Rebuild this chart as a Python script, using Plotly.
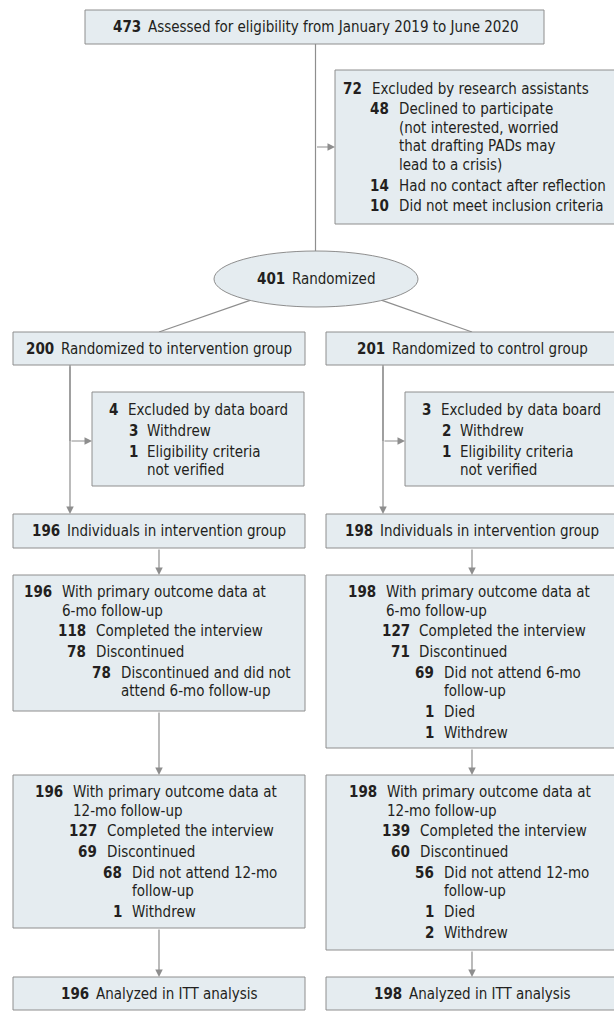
import plotly.graph_objects as go

# ---------------- data ----------------
screened = ("473", "Assessed for eligibility from January 2019 to June 2020")
excluded_ra = [
    (0, "72", ["Excluded by research assistants"]),
    (1, "48", ["Declined to participate", "(not interested, worried",
               "that drafting PADs may", "lead to a crisis)"]),
    (1, "14", ["Had no contact after reflection"]),
    (1, "10", ["Did not meet inclusion criteria"]),
]
randomized = ("401", "Randomized")
allocated = [("200", "Randomized to intervention group"),
             ("201", "Randomized to control group")]
excluded_board = [
    [(0, "4", ["Excluded by data board"]), (1, "3", ["Withdrew"]),
     (1, "1", ["Eligibility criteria", "not verified"])],
    [(0, "3", ["Excluded by data board"]), (1, "2", ["Withdrew"]),
     (1, "1", ["Eligibility criteria", "not verified"])],
]
individuals = [("196", "Individuals in intervention group"),
               ("198", "Individuals in intervention group")]
followup_6mo = [
    [(0, "196", ["With primary outcome data at", "6-mo follow-up"]),
     (1, "118", ["Completed the interview"]),
     (1, "78", ["Discontinued"]),
     (2, "78", ["Discontinued and did not", "attend 6-mo follow-up"])],
    [(0, "198", ["With primary outcome data at", "6-mo follow-up"]),
     (1, "127", ["Completed the interview"]),
     (1, "71", ["Discontinued"]),
     (2, "69", ["Did not attend 6-mo", "follow-up"]),
     (2, "1", ["Died"]),
     (2, "1", ["Withdrew"])],
]
followup_12mo = [
    [(0, "196", ["With primary outcome data at", "12-mo follow-up"]),
     (1, "127", ["Completed the interview"]),
     (1, "69", ["Discontinued"]),
     (2, "68", ["Did not attend 12-mo", "follow-up"]),
     (2, "1", ["Withdrew"])],
    [(0, "198", ["With primary outcome data at", "12-mo follow-up"]),
     (1, "139", ["Completed the interview"]),
     (1, "60", ["Discontinued"]),
     (2, "56", ["Did not attend 12-mo", "follow-up"]),
     (2, "1", ["Died"]),
     (2, "2", ["Withdrew"])],
]
analyzed = [("196", "Analyzed in ITT analysis"), ("198", "Analyzed in ITT analysis")]

# ---------------- style / layout ----------------
W, H = 614, 1027
FILL = "#e5ecf0"
EDGE = "#8e8e8e"
LINE = "#8e8e8e"
INK = "#231f20"
FAMILY = "DejaVu Sans Condensed, Liberation Sans, Arial, sans-serif"
FS = 15
ITEM, CONT = 20.8, 18.5
GAP = 7.5

shapes, annotations = [], []


def rect(x0, y0, x1, y1):
    shapes.append(dict(type="rect", xref="x", yref="y", x0=x0, y0=y0, x1=x1, y1=y1,
                       fillcolor=FILL, line=dict(color=EDGE, width=1), layer="below"))


def seg(x0, y0, x1, y1):
    shapes.append(dict(type="line", xref="x", yref="y", x0=x0, y0=y0, x1=x1, y1=y1,
                       line=dict(color=LINE, width=1.2), layer="below"))


def arrow(x0, y0, x1, y1):
    annotations.append(dict(x=x1, y=y1, ax=x0, ay=y0, xref="x", yref="y",
                            axref="x", ayref="y", text="", showarrow=True,
                            arrowhead=2, arrowsize=1.25, arrowwidth=1.2,
                            arrowcolor=LINE, standoff=0))


def txt(x, y, s, anchor):
    annotations.append(dict(x=x, y=y, xref="x", yref="y", text=s, showarrow=False,
                            xanchor=anchor, yanchor="middle", borderpad=0,
                            font=dict(family=FAMILY, size=FS, color=INK)))


def single(cx, cy, pair):
    num, label = pair
    txt(cx, cy, f"<b>{num}</b>\u2002{label}", "center")


def block(items, rights, y_first):
    y = y_first
    for i, (level, num, lines) in enumerate(items):
        if i > 0:
            y += ITEM
        r = rights[level]
        txt(r, y, f"<b>{num}</b>", "right")
        for k, t in enumerate(lines):
            if k > 0:
                y += CONT
            txt(r + GAP, y, t, "left")


# columns
LX0, LX1 = 13, 305          # left column boxes
SHIFT = 313                 # right column offset
LC = (LX0 + LX1) / 2        # 159
RC = LC + SHIFT             # 472
MAINX = 315.5

# screening box
rect(85, 10, 544, 44)
single(MAINX, 27, screened)

# main stem and exclusion
seg(MAINX, 44, MAINX, 251)
rect(335, 70, 640, 224)
arrow(MAINX, 147, 335, 147)
block(excluded_ra, {0: 363, 1: 390}, 88.5)

# randomized ellipse
ECX, ECY, ERX, ERY = 316, 279, 102, 28
shapes.append(dict(type="circle", xref="x", yref="y", x0=ECX - ERX, x1=ECX + ERX,
                   y0=ECY - ERY, y1=ECY + ERY, fillcolor=FILL,
                   line=dict(color=EDGE, width=1)))
single(ECX, ECY, randomized)

# branches to the two arms
for bx, cx in ((250, LC), (382, RC)):
    ey = ECY + ERY * (1 - ((bx - ECX) / ERX) ** 2) ** 0.5
    seg(bx, ey, cx, 332)

for col in range(2):
    off = SHIFT * col
    cx = LC + off
    stem = 70 + off
    # allocation
    rect(LX0 + off, 332, LX1 + off + (4 if col else 0), 365)
    single(cx, 349, allocated[col])
    # exclusion by data board
    seg(stem, 365, stem, 441)
    arrow(stem, 365, stem, 514)
    arrow(stem, 441, 92 + off, 441)
    rect(92 + off, 392, 304 + off + (4 if col else 0), 486)
    block(excluded_board[col], {0: 119 + off, 1: 138.5 + off}, 410)
    # individuals
    rect(LX0 + off, 514, LX1 + off + (4 if col else 0), 548)
    single(cx, 531, individuals[col])
    arrow(cx, 548, cx, 575)

# 6-month follow-up
rect(LX0, 575, LX1, 711)
rect(LX0 + SHIFT, 575, LX1 + SHIFT + 4, 748)
block(followup_6mo[0], {0: 53, 1: 87, 2: 112}, 592)
block(followup_6mo[1], {0: 377, 1: 410.5, 2: 435}, 592)
arrow(LC, 711, LC, 775)
arrow(RC, 748, RC, 775)

# 12-month follow-up
rect(LX0, 775, LX1, 928)
rect(LX0 + SHIFT, 775, LX1 + SHIFT + 4, 950)
block(followup_12mo[0], {0: 64, 1: 98, 2: 123}, 792)
block(followup_12mo[1], {0: 378, 1: 411, 2: 435}, 792)
arrow(LC, 928, LC, 977)
arrow(RC, 950, RC, 977)

# analysis
for col in range(2):
    off = SHIFT * col
    rect(LX0 + off, 977, LX1 + off + (4 if col else 0), 1010)
    single(LC + off, 994, analyzed[col])

fig = go.Figure()
fig.add_trace(go.Scatter(x=[0, W], y=[0, H], mode="markers",
                         marker=dict(opacity=0), hoverinfo="skip", showlegend=False))
fig.update_layout(
    width=W, height=H, margin=dict(l=0, r=0, t=0, b=0),
    paper_bgcolor="white", plot_bgcolor="white",
    xaxis=dict(range=[0, W], visible=False, fixedrange=True),
    yaxis=dict(range=[H, 0], visible=False, fixedrange=True),
    shapes=shapes, annotations=annotations, showlegend=False,
)
fig.write_html("out.html", config={"displayModeBar": False},
               post_script="document.body.style.margin='0';document.body.style.overflow='hidden';")
